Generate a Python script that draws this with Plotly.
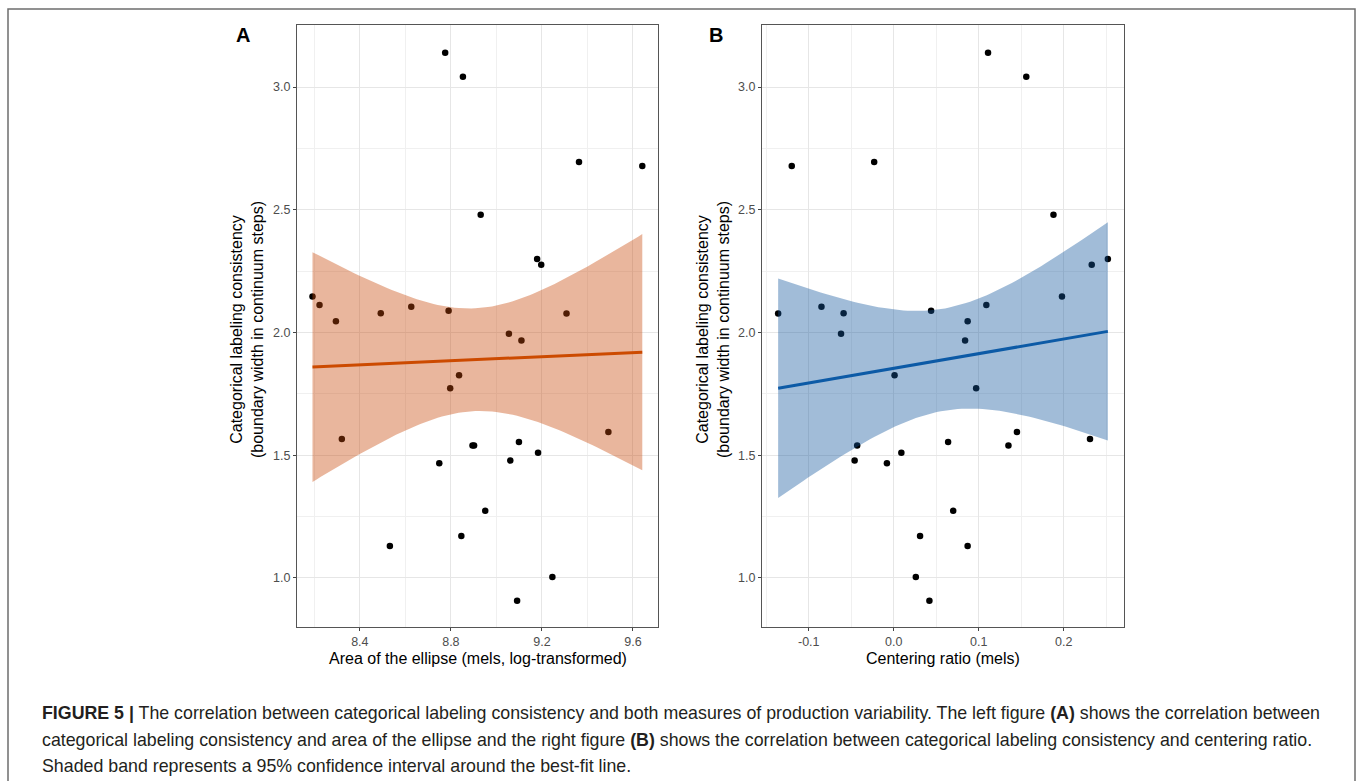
import numpy as np
import plotly.graph_objects as go

W, H = 1358, 781

# ---- data ----
consistency = [3.140, 3.042, 2.695, 2.678, 2.480, 2.300, 2.276, 2.147, 2.112, 2.105,
               2.089, 2.078, 2.077, 2.046, 1.995, 1.967, 1.826, 1.773, 1.595, 1.566,
               1.554, 1.540, 1.540, 1.510, 1.478, 1.467, 1.274, 1.171, 1.130, 1.004, 0.907]
ellipse_area = [8.775, 8.853, 9.363, 9.641, 8.931, 9.179, 9.197, 8.192, 8.223, 8.626,
                8.790, 8.492, 9.308, 8.295, 9.055, 9.110, 8.836, 8.797, 9.492, 8.321,
                9.099, 8.895, 8.902, 9.183, 9.061, 8.749, 8.951, 8.846, 8.532, 9.246, 9.091]
centering = [0.111, 0.156, -0.023, -0.120, 0.188, 0.252, 0.233, 0.198, 0.109, -0.085,
             0.044, -0.059, -0.136, 0.087, -0.062, 0.084, 0.001, 0.097, 0.145, 0.231,
             0.064, -0.043, 0.135, 0.009, -0.046, -0.008, 0.070, 0.031, 0.087, 0.026, 0.042]

x_ticks_a = [8.4, 8.8, 9.2, 9.6]
x_ticks_b = [-0.1, 0.0, 0.1, 0.2]
y_ticks = [1.0, 1.5, 2.0, 2.5, 3.0]

T_CRIT = 2.0452  # t(0.975, df=29)


def lm_band(x, y, n_grid=80):
    x = np.asarray(x, float)
    y = np.asarray(y, float)
    n = len(x)
    xm = x.mean()
    sxx = ((x - xm) ** 2).sum()
    b1 = ((x - xm) * (y - y.mean())).sum() / sxx
    b0 = y.mean() - b1 * xm
    resid = y - (b0 + b1 * x)
    s = np.sqrt((resid ** 2).sum() / (n - 2))
    g = np.linspace(x.min(), x.max(), n_grid)
    fit = b0 + b1 * g
    se = s * np.sqrt(1.0 / n + (g - xm) ** 2 / sxx)
    return g, fit, fit - T_CRIT * se, fit + T_CRIT * se


def px_x(p):
    return p / W


def px_y(p):
    return 1 - p / H


fig = go.Figure()

panels = [
    dict(x=ellipse_area, xa="x", ya="y", fill="rgba(200,72,10,0.4)", line="#CC4A00"),
    dict(x=centering, xa="x2", ya="y2", fill="rgba(20,88,158,0.4)", line="#0C5AA6"),
]

for p in panels:
    fig.add_trace(go.Scatter(x=p["x"], y=consistency, mode="markers",
                             marker=dict(color="black", size=6.5),
                             xaxis=p["xa"], yaxis=p["ya"], showlegend=False,
                             hoverinfo="skip"))
    g, fit, lo, hi = lm_band(p["x"], consistency)
    fig.add_trace(go.Scatter(x=np.concatenate([g, g[::-1]]),
                             y=np.concatenate([hi, lo[::-1]]),
                             fill="toself", fillcolor=p["fill"], mode="lines",
                             line=dict(width=0), xaxis=p["xa"], yaxis=p["ya"],
                             showlegend=False, hoverinfo="skip"))
    fig.add_trace(go.Scatter(x=g, y=fit, mode="lines",
                             line=dict(color=p["line"], width=3),
                             xaxis=p["xa"], yaxis=p["ya"], showlegend=False,
                             hoverinfo="skip"))

tickfont = dict(family="Liberation Sans, Arial, sans-serif", size=12.5, color="#4D4D4D")
common = dict(showline=True, mirror=True, linecolor="#555555", linewidth=1,
              ticks="outside", ticklen=3, tickcolor="#444444", tickwidth=1,
              showgrid=True, gridcolor="#E6E6E6", gridwidth=1.1,
              zeroline=False, tickfont=tickfont)

ydom = [px_y(627), px_y(25)]
yax = dict(range=[0.80, 3.253], tickvals=y_ticks,
           ticktext=[f"{v:.1f}" for v in y_ticks],
           minor=dict(tickvals=[0.75, 1.25, 1.75, 2.25, 2.75, 3.25], showgrid=True,
                      gridcolor="#F0F0F0", gridwidth=0.8, ticks=""),
           domain=ydom, **common)

fig.update_layout(
    width=W, height=H, margin=dict(l=0, r=0, t=0, b=0),
    paper_bgcolor="white", plot_bgcolor="white",
    xaxis=dict(range=[8.124, 9.71], tickvals=x_ticks_a,
               ticktext=[f"{v:.1f}" for v in x_ticks_a],
               minor=dict(tickvals=[8.2, 8.6, 9.0, 9.4], showgrid=True,
                          gridcolor="#F0F0F0", gridwidth=0.8, ticks=""),
               domain=[px_x(297), px_x(658)], anchor="y", **common),
    yaxis=dict(anchor="x", **yax),
    xaxis2=dict(range=[-0.155, 0.271], tickvals=x_ticks_b,
                ticktext=[f"{v:.1f}" for v in x_ticks_b],
                minor=dict(tickvals=[-0.15, -0.05, 0.05, 0.15, 0.25], showgrid=True,
                           gridcolor="#F0F0F0", gridwidth=0.8, ticks=""),
                domain=[px_x(762), px_x(1124)], anchor="y2", **common),
    yaxis2=dict(anchor="x2", **yax),
)

title_font = dict(family="Liberation Sans, Arial, sans-serif", size=16, color="black")
ytitle = "Categorical labeling consistency<br>(boundary width in continuum steps)"

ann = []
ann.append(dict(x=px_x(247), y=px_y(330), text=ytitle, textangle=-90, showarrow=False,
                xref="paper", yref="paper", font=title_font, xanchor="center", yanchor="middle"))
ann.append(dict(x=px_x(713), y=px_y(330), text=ytitle, textangle=-90, showarrow=False,
                xref="paper", yref="paper", font=title_font, xanchor="center", yanchor="middle"))
ann.append(dict(x=px_x(478), y=px_y(658), text="Area of the ellipse (mels, log-transformed)",
                showarrow=False, xref="paper", yref="paper", font=title_font,
                xanchor="center", yanchor="middle"))
ann.append(dict(x=px_x(943), y=px_y(658), text="Centering ratio (mels)",
                showarrow=False, xref="paper", yref="paper", font=title_font,
                xanchor="center", yanchor="middle"))
panel_font = dict(family="Liberation Sans, Arial, sans-serif", size=20, color="black")
ann.append(dict(x=px_x(243), y=px_y(35), text="<b>A</b>", showarrow=False, xref="paper",
                yref="paper", font=panel_font, xanchor="center", yanchor="middle"))
ann.append(dict(x=px_x(716), y=px_y(35), text="<b>B</b>", showarrow=False, xref="paper",
                yref="paper", font=panel_font, xanchor="center", yanchor="middle"))

cap_font = dict(family="Liberation Sans Narrow, Arial Narrow, Liberation Sans, sans-serif",
                size=17.8, color="#231F20")
caption = [
    "<b>FIGURE 5 |</b> The correlation between categorical labeling consistency and both measures of production variability. The left figure <b>(A)</b> shows the correlation between",
    "categorical labeling consistency and area of the ellipse and the right figure <b>(B)</b> shows the correlation between categorical labeling consistency and centering ratio.",
    "Shaded band represents a 95% confidence interval around the best-fit line.",
]
for i, line in enumerate(caption):
    ann.append(dict(x=px_x(40), y=px_y(713 + 26.5 * i), text=line, showarrow=False,
                    xref="paper", yref="paper", font=cap_font, xanchor="left",
                    yanchor="middle", align="left"))

fig.update_layout(annotations=ann)

fig.add_shape(type="rect", xref="paper", yref="paper",
              x0=px_x(8), x1=px_x(1355), y0=px_y(9), y1=-0.1,
              line=dict(color="#6E6E6E", width=1.5), fillcolor="rgba(0,0,0,0)", layer="below")

fig.write_html("out.html")
